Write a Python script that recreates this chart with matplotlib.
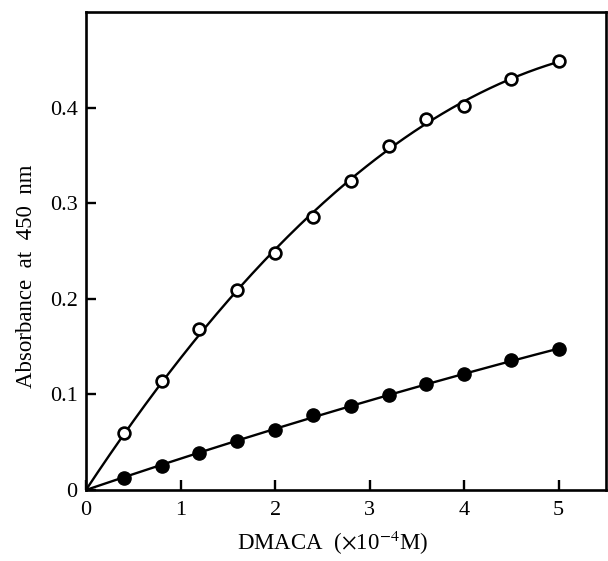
import numpy as np
import matplotlib
matplotlib.use("Agg")
import matplotlib.pyplot as plt

plt.rcParams['font.family'] = ['Liberation Serif', 'DejaVu Serif']
plt.rcParams['mathtext.fontset'] = 'stix'

conc = [0.4, 0.8, 1.2, 1.6, 2.0, 2.4, 2.8, 3.2, 3.6, 4.0, 4.5, 5.0]
open_abs = [0.060, 0.114, 0.168, 0.209, 0.248, 0.286, 0.323, 0.360, 0.388, 0.402, 0.430, 0.449]
filled_abs = [0.013, 0.025, 0.039, 0.051, 0.063, 0.078, 0.088, 0.099, 0.111, 0.121, 0.136, 0.147]

xticks = [0, 1, 2, 3, 4, 5]
yticks = [0, 0.1, 0.2, 0.3, 0.4]
yticklabels = ['0', '0.1', '0.2', '0.3', '0.4']

fig = plt.figure(figsize=(6.08, 5.61), dpi=100)
ax = fig.add_axes([0.1414, 0.1266, 0.8553, 0.852])

# fitted curves through origin
xs = np.linspace(0, max(conc), 200)
x_all = np.array([0.0] + conc)
for ys in (open_abs, filled_abs):
    y_all = np.array([0.0] + ys)
    A = np.vstack([x_all, x_all**2]).T
    coef, *_ = np.linalg.lstsq(A, y_all, rcond=None)
    ax.plot(xs, coef[0]*xs + coef[1]*xs**2, color='black', lw=1.7, zorder=2)

ax.plot(conc, open_abs, 'o', ms=8.5, mfc='white', mec='black', mew=1.9, zorder=3)
ax.plot(conc, filled_abs, 'o', ms=9.5, mfc='black', mec='black', zorder=3)

ax.set_xlim(0, 5.5)
ax.set_ylim(0, 0.5)
ax.set_xticks(xticks)
ax.set_xticklabels([str(t) for t in xticks])
ax.set_yticks(yticks)
ax.set_yticklabels(yticklabels)
ax.tick_params(direction='in', length=7, width=1.7, labelsize=16, pad=6)
ax.tick_params(axis='x', pad=8)
for s in ax.spines.values():
    s.set_linewidth(1.9)

ax.set_xlabel('DMACA  ($\\times$10$^{-4}$M)', fontsize=16.5)
ax.xaxis.set_label_coords(0.475, -0.082)
ax.set_ylabel('Absorbance  at  450  nm', fontsize=16.5)
ax.yaxis.set_label_coords(-0.095, 0.448)

fig.savefig('out.png', dpi=100)
